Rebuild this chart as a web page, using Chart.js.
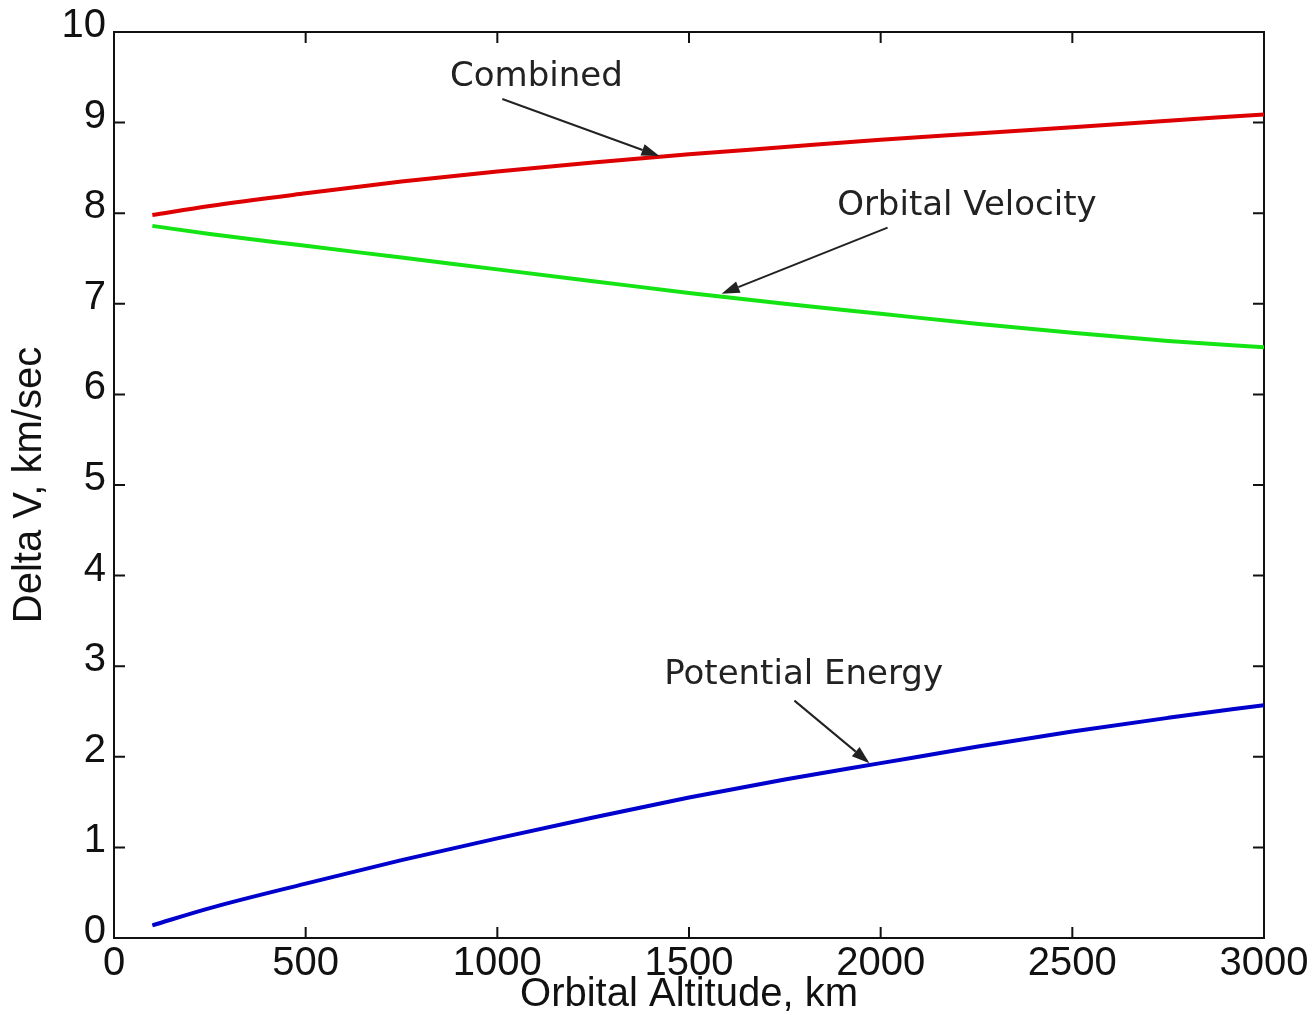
<!DOCTYPE html>
<html>
<head>
<meta charset="utf-8">
<script src="https://cdn.jsdelivr.net/npm/chart.js@4.4.1/dist/chart.umd.min.js"></script>
<style>
  html, body { margin: 0; padding: 0; background: #fff; }
  canvas { display: block; }
</style>
</head>
<body>
<canvas id="myChart" width="1315" height="1015"></canvas>
<script>
// values
const altitudes = [100, 250, 500, 750, 1000, 1250, 1500, 1750, 2000, 2250, 2500, 2750, 3000];
const combined = [7.98, 8.08, 8.22, 8.35, 8.46, 8.56, 8.65, 8.73, 8.81, 8.88, 8.95, 9.02, 9.09];
const orbitalVelocity = [7.86, 7.77, 7.64, 7.51, 7.38, 7.25, 7.12, 7.0, 6.89, 6.78, 6.68, 6.59, 6.52];
const potentialEnergy = [0.14, 0.33, 0.6, 0.86, 1.1, 1.33, 1.55, 1.75, 1.93, 2.11, 2.28, 2.43, 2.57];

const xTickValues = [0, 500, 1000, 1500, 2000, 2500, 3000];
const yTickValues = [0, 1, 2, 3, 4, 5, 6, 7, 8, 9, 10];

// arrow notes, in data units: label centre, arrow tail, arrow tip
const notes = [
  { text: "Combined", at: [1102, 9.5], from: [1013, 9.26], to: [1423, 8.63] },
  { text: "Orbital Velocity", at: [2225, 8.08], from: [2018, 7.84], to: [1585, 7.11] },
  { text: "Potential Energy", at: [1799, 2.9], from: [1775, 2.62], to: [1971, 1.93] },
];

const ink = "#111";

function toPoints(values) {
  return altitudes.map((a, i) => ({ x: a, y: values[i] }));
}

const boxAndTicks = {
  id: "boxAndTicks",
  beforeDatasetsDraw(chart) {
    const { ctx, chartArea: a, scales } = chart;
    ctx.save();
    ctx.strokeStyle = ink;
    ctx.lineWidth = 2;
    ctx.strokeRect(a.left, a.top, a.right - a.left, a.bottom - a.top);
    ctx.beginPath();
    xTickValues.forEach((v) => {
      const px = scales.x.getPixelForValue(v);
      ctx.moveTo(px, a.bottom);
      ctx.lineTo(px, a.bottom - 11);
      ctx.moveTo(px, a.top);
      ctx.lineTo(px, a.top + 11);
    });
    yTickValues.forEach((v) => {
      const py = scales.y.getPixelForValue(v);
      ctx.moveTo(a.left, py);
      ctx.lineTo(a.left + 11, py);
      ctx.moveTo(a.right, py);
      ctx.lineTo(a.right - 11, py);
    });
    ctx.stroke();
    ctx.restore();
  },
};

const arrowNotes = {
  id: "arrowNotes",
  afterDatasetsDraw(chart) {
    const { ctx, scales: { x, y } } = chart;
    ctx.save();
    ctx.font = '34px "DejaVu Sans"';
    ctx.fillStyle = "#222";
    ctx.strokeStyle = "#222";
    ctx.lineWidth = 2;
    ctx.textAlign = "center";
    ctx.textBaseline = "middle";
    notes.forEach((n) => {
      ctx.fillText(n.text, x.getPixelForValue(n.at[0]), y.getPixelForValue(n.at[1]));
      const x0 = x.getPixelForValue(n.from[0]);
      const y0 = y.getPixelForValue(n.from[1]);
      const x1 = x.getPixelForValue(n.to[0]);
      const y1 = y.getPixelForValue(n.to[1]);
      const ang = Math.atan2(y1 - y0, x1 - x0);
      const c = Math.cos(ang), s = Math.sin(ang);
      const bx = x1 - 18 * c, by = y1 - 18 * s;
      ctx.beginPath();
      ctx.moveTo(x0, y0);
      ctx.lineTo(bx, by);
      ctx.stroke();
      ctx.beginPath();
      ctx.moveTo(x1, y1);
      ctx.lineTo(bx + 6 * s, by - 6 * c);
      ctx.lineTo(bx - 6 * s, by + 6 * c);
      ctx.closePath();
      ctx.fill();
    });
    ctx.restore();
  },
};

const lineStyle = {
  borderWidth: 4,
  pointRadius: 0,
  fill: false,
  cubicInterpolationMode: "monotone",
};

const tickFont = { family: '"Liberation Sans", Arial, Helvetica, sans-serif', size: 40 };

new Chart(document.getElementById("myChart").getContext("2d"), {
  type: "line",
  data: {
    datasets: [
      { label: "Combined", data: toPoints(combined), borderColor: "rgb(222,0,0)", ...lineStyle },
      { label: "Orbital Velocity", data: toPoints(orbitalVelocity), borderColor: "rgb(20,228,20)", ...lineStyle },
      { label: "Potential Energy", data: toPoints(potentialEnergy), borderColor: "rgb(0,0,205)", ...lineStyle },
    ],
  },
  options: {
    responsive: false,
    animation: false,
    layout: { padding: { top: 30, right: 51, bottom: 0, left: 0 } },
    plugins: {
      legend: { display: false },
      tooltip: { enabled: false },
    },
    scales: {
      x: {
        type: "linear",
        min: 0,
        max: 3000,
        afterFit: (scale) => { scale.height = 77; },
        afterBuildTicks: (scale) => { scale.ticks = xTickValues.map((v) => ({ value: v })); },
        grid: { display: false, drawTicks: false },
        border: { display: false },
        ticks: {
          font: tickFont,
          color: ink,
          padding: 2,
          maxRotation: 0,
          autoSkip: false,
          callback: (v) => String(v),
        },
        title: {
          display: true,
          text: "Orbital Altitude, km",
          color: ink,
          font: { ...tickFont, lineHeight: 1 },
          padding: { top: 0, bottom: 0 },
        },
      },
      y: {
        min: 0,
        max: 10,
        afterFit: (scale) => { scale.width = 114; },
        afterBuildTicks: (scale) => { scale.ticks = yTickValues.map((v) => ({ value: v })); },
        grid: { display: false, drawTicks: false },
        border: { display: false },
        ticks: {
          font: tickFont,
          color: ink,
          padding: 8,
          labelOffset: -6,
          autoSkip: false,
          callback: (v) => String(v),
        },
        title: {
          display: true,
          text: "Delta V, km/sec",
          color: ink,
          font: { ...tickFont, lineHeight: 1 },
          padding: { top: 10, bottom: 0 },
        },
      },
    },
  },
  plugins: [boxAndTicks, arrowNotes],
});
</script>
</body>
</html>
